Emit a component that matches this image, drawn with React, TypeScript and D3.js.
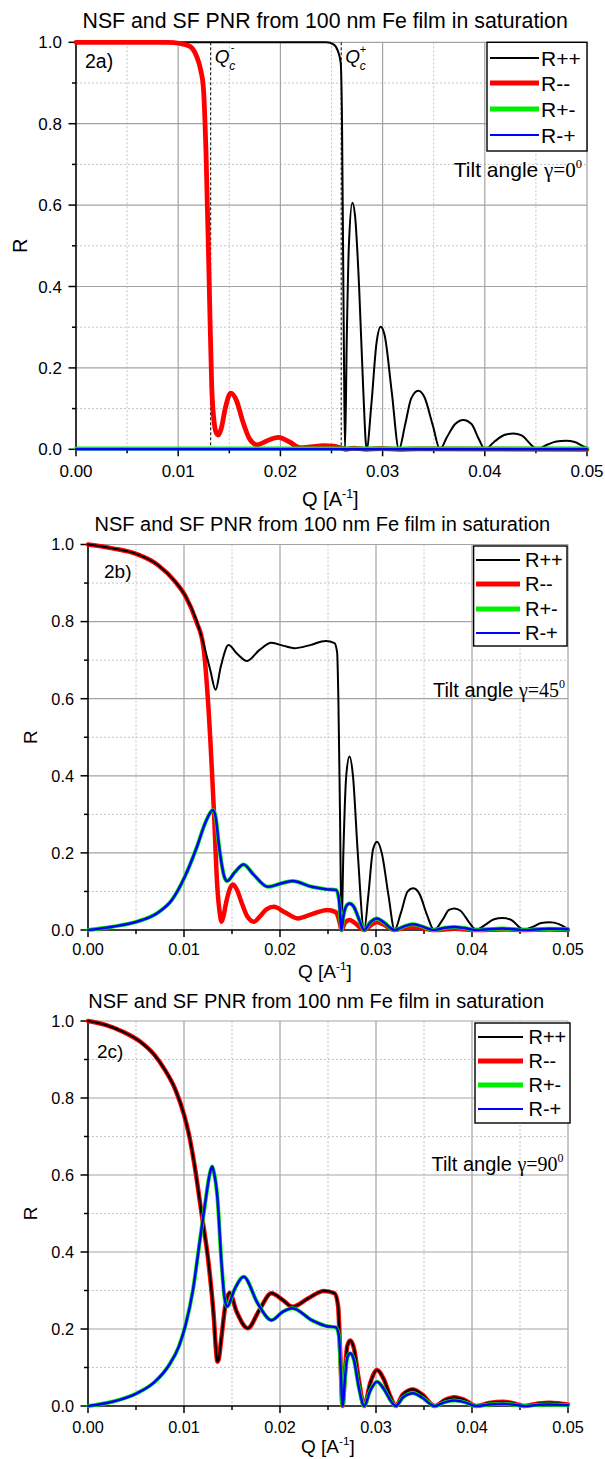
import React from 'react';
import * as d3 from 'd3';

type Pt = [number, number];

// ---------- shared axis data ----------
const xTicks = [0, 0.01, 0.02, 0.03, 0.04, 0.05];
const xTickLabels = ['0.00', '0.01', '0.02', '0.03', '0.04', '0.05'];
const xMinor = [0.005, 0.015, 0.025, 0.035, 0.045];
const yTicks = [0, 0.2, 0.4, 0.6, 0.8, 1.0];
const yTickLabels = ['0.0', '0.2', '0.4', '0.6', '0.8', '1.0'];
const yMinor = [0.1, 0.3, 0.5, 0.7, 0.9];
const seriesNames = ['R++', 'R--', 'R+-', 'R-+'];
const seriesColors = ['#000000', '#ff0000', '#00ee00', '#0000ff'];
const titleText = 'NSF and SF PNR from 100 nm Fe film in saturation';
const panelLabels = ['2a)', '2b)', '2c)'];
const tiltAngles = ['0', '45', '90'];
const qcMinus = 0.01318;
const qcPlus = 0.02595;

// ---------- panel 2a (gamma = 0) ----------
const a_pp: Pt[] = [
  [0, 1], [0.005, 1], [0.01, 1], [0.015, 1], [0.02, 1], [0.0245, 1], [0.0252, 0.995], [0.0256, 0.98], [0.0259, 0.95],
  [0.02603, 0.8], [0.02613, 0.5], [0.02623, 0.2], [0.02632, 0],
  [0.0265, 0.28], [0.0267, 0.5], [0.02704, 0.606], [0.0273, 0.575], [0.0277, 0.4], [0.0281, 0.15], [0.02844, 0],
  [0.0289, 0.11], [0.0294, 0.26], [0.02981, 0.301], [0.0302, 0.28], [0.0309, 0.14], [0.0316, 0],
  [0.0322, 0.06], [0.0328, 0.125], [0.03349, 0.144], [0.0341, 0.128], [0.0349, 0.06], [0.03562, 0],
  [0.0363, 0.03], [0.0371, 0.062], [0.0379, 0.072], [0.0387, 0.062], [0.0394, 0.026], [0.04002, 0],
  [0.0409, 0.018], [0.0419, 0.035], [0.04279, 0.039], [0.0436, 0.034], [0.0445, 0.012], [0.04508, 0],
  [0.046, 0.01], [0.047, 0.019], [0.04795, 0.021], [0.0488, 0.018], [0.0496, 0.008], [0.05, 0.004],
];
const a_mm: Pt[] = [
  [0, 1], [0.009, 1], [0.0102, 0.997], [0.01115, 0.99], [0.01181, 0.965], [0.0122, 0.932], [0.01246, 0.89],
  [0.01272, 0.73], [0.01304, 0.4], [0.01328, 0.154], [0.0135, 0.07], [0.0137, 0.042], [0.01392, 0.035],
  [0.0142, 0.05], [0.0146, 0.1], [0.01514, 0.138], [0.0157, 0.12], [0.0163, 0.07], [0.017, 0.025], [0.01774, 0.011],
  [0.0186, 0.02], [0.0198, 0.0295], [0.0209, 0.018], [0.02192, 0.004], [0.023, 0.006], [0.0242, 0.009], [0.0252, 0.008],
  [0.026, 0.003], [0.0264, 0], [0.0272, 0.003], [0.0284, 0], [0.0298, 0.002], [0.0316, 0], [0.0335, 0.001], [0.05, 0],
];
const a_pm: Pt[] = [[0, 0.002], [0.025, 0.002], [0.05, 0.002]];
const a_mp: Pt[] = [[0, 0], [0.025, 0], [0.05, 0]];

// ---------- panel 2b (gamma = 45) ----------
const b_pp: Pt[] = [
  [0, 1], [0.00254, 0.99], [0.00509, 0.975], [0.00728, 0.947], [0.0091, 0.903], [0.0102, 0.864], [0.01129, 0.804],
  [0.01202, 0.744], [0.01274, 0.674], [0.01329, 0.623], [0.01383, 0.683], [0.01464, 0.739], [0.01548, 0.718],
  [0.01657, 0.698], [0.01784, 0.726], [0.01911, 0.745], [0.0204, 0.737], [0.02149, 0.731], [0.02313, 0.739],
  [0.02476, 0.75], [0.02568, 0.744], [0.02595, 0.72], [0.02608, 0.6], [0.02625, 0.3], [0.02641, 0],
  [0.0266, 0.2], [0.0269, 0.4], [0.02724, 0.45], [0.0276, 0.4], [0.0281, 0.2], [0.02877, 0],
  [0.0292, 0.09], [0.0297, 0.21], [0.03011, 0.229], [0.0306, 0.2], [0.0313, 0.09], [0.03194, 0],
  [0.0326, 0.045], [0.0333, 0.1], [0.03386, 0.108], [0.0345, 0.095], [0.0353, 0.04], [0.03605, 0],
  [0.0369, 0.025], [0.0376, 0.052], [0.03817, 0.056], [0.0388, 0.05], [0.0397, 0.02], [0.04043, 0],
  [0.0413, 0.012], [0.0423, 0.028], [0.04316, 0.031], [0.0441, 0.026], [0.0449, 0.008], [0.04535, 0],
  [0.0463, 0.008], [0.0472, 0.018], [0.04807, 0.02], [0.049, 0.016], [0.0497, 0.007], [0.05, 0.004],
];
const b_mm: Pt[] = [
  [0, 1], [0.00254, 0.99], [0.00509, 0.975], [0.00728, 0.947], [0.0091, 0.903], [0.0102, 0.864], [0.01129, 0.8],
  [0.01202, 0.735], [0.01256, 0.571], [0.01311, 0.311], [0.01347, 0.112], [0.01372, 0.045], [0.01391, 0.0215],
  [0.0141, 0.035], [0.01438, 0.07], [0.01475, 0.105], [0.01511, 0.118], [0.0155, 0.105], [0.01602, 0.07],
  [0.0166, 0.035], [0.0173, 0.0215], [0.0179, 0.035], [0.01855, 0.053], [0.01938, 0.06], [0.0205, 0.046],
  [0.02185, 0.03], [0.0234, 0.042], [0.02495, 0.052], [0.02575, 0.047], [0.02605, 0.035], [0.02625, 0.015], [0.02641, 0],
  [0.0268, 0.02], [0.02724, 0.026], [0.0277, 0.02], [0.02877, 0], [0.0296, 0.015], [0.03011, 0.02], [0.0307, 0.015],
  [0.03194, 0], [0.0333, 0.007], [0.03386, 0.008], [0.0345, 0.006], [0.03605, 0], [0.0382, 0.003], [0.04043, 0],
  [0.0432, 0.0015], [0.0454, 0], [0.048, 0.001], [0.05, 0],
];
const b_pm: Pt[] = [
  [0, 0], [0.00254, 0.0086], [0.00509, 0.0215], [0.00728, 0.045], [0.00874, 0.078], [0.01008, 0.138], [0.01129, 0.212],
  [0.0122, 0.277], [0.01275, 0.305], [0.013, 0.311], [0.01329, 0.294], [0.01366, 0.216], [0.0142, 0.138], [0.01449, 0.127],
  [0.0153, 0.15], [0.01621, 0.17], [0.0172, 0.145], [0.01875, 0.112], [0.02, 0.12], [0.0213, 0.127], [0.0233, 0.112],
  [0.02476, 0.106], [0.02585, 0.104], [0.02615, 0.078], [0.02641, 0],
  [0.0266, 0.035], [0.0269, 0.062], [0.02724, 0.069], [0.0277, 0.06], [0.0282, 0.03], [0.02877, 0],
  [0.0294, 0.02], [0.03011, 0.03], [0.0308, 0.02], [0.03194, 0], [0.033, 0.01], [0.03386, 0.015], [0.0347, 0.01],
  [0.03605, 0], [0.0372, 0.006], [0.03817, 0.008], [0.0392, 0.005], [0.04043, 0], [0.0432, 0.004], [0.0454, 0],
  [0.048, 0.003], [0.05, 0.002],
];
const b_mp: Pt[] = b_pm.map((d) => [d[0], d[1]] as Pt);

// ---------- panel 2c (gamma = 90) ----------
const c_pp: Pt[] = [
  [0, 1], [0.00182, 0.99], [0.00364, 0.972], [0.00546, 0.946], [0.00692, 0.912], [0.00801, 0.873], [0.0091, 0.822],
  [0.01, 0.757], [0.0105, 0.707], [0.0111, 0.625], [0.01183, 0.5], [0.01256, 0.371], [0.0131, 0.232], [0.01335, 0.14],
  [0.01347, 0.115], [0.0136, 0.12], [0.01391, 0.18], [0.0143, 0.26], [0.01475, 0.294], [0.01548, 0.245], [0.01665, 0.202],
  [0.01784, 0.249], [0.01911, 0.293], [0.0203, 0.275], [0.0213, 0.258], [0.02295, 0.28], [0.02458, 0.299], [0.02568, 0.293],
  [0.02605, 0.26], [0.0263, 0.12], [0.02651, 0],
  [0.0268, 0.1], [0.027, 0.155], [0.02731, 0.17], [0.0277, 0.15], [0.0282, 0.07], [0.02877, 0],
  [0.0294, 0.06], [0.03011, 0.0935], [0.0308, 0.07], [0.0315, 0.025], [0.03205, 0],
  [0.0328, 0.03], [0.03386, 0.043], [0.0348, 0.03], [0.03612, 0],
  [0.0372, 0.016], [0.03817, 0.0226], [0.0392, 0.016], [0.04043, 0],
  [0.0418, 0.008], [0.04327, 0.011], [0.0445, 0.006], [0.04535, 0],
  [0.0468, 0.006], [0.04807, 0.0087], [0.0493, 0.006], [0.05, 0.004],
];
const c_mm: Pt[] = c_pp.map((d) => [d[0], d[1]] as Pt);
const c_pm: Pt[] = [
  [0, 0], [0.00254, 0.011], [0.00509, 0.033], [0.00692, 0.062], [0.00838, 0.104], [0.00947, 0.155], [0.0102, 0.214],
  [0.01093, 0.301], [0.01166, 0.431], [0.0122, 0.526], [0.0127, 0.605], [0.01293, 0.622], [0.0131, 0.609], [0.01347, 0.544],
  [0.01391, 0.371], [0.0142, 0.285], [0.01449, 0.258], [0.0153, 0.305], [0.01621, 0.336], [0.01767, 0.267], [0.01911, 0.223],
  [0.0203, 0.245], [0.0213, 0.254], [0.0233, 0.223], [0.02476, 0.208], [0.02585, 0.204], [0.02615, 0.18], [0.02635, 0.08], [0.02651, 0],
  [0.0268, 0.08], [0.027, 0.125], [0.02731, 0.137], [0.0277, 0.12], [0.0282, 0.05], [0.02877, 0],
  [0.0294, 0.04], [0.03011, 0.063], [0.0308, 0.045], [0.0315, 0.015], [0.03205, 0],
  [0.0328, 0.022], [0.03386, 0.033], [0.0348, 0.022], [0.03612, 0],
  [0.0372, 0.01], [0.03817, 0.014], [0.0392, 0.01], [0.04043, 0],
  [0.0418, 0.004], [0.0433, 0.006], [0.0445, 0.003], [0.0454, 0],
  [0.047, 0.003], [0.048, 0.004], [0.049, 0.003], [0.05, 0.002],
];
const c_mp: Pt[] = c_pm.map((d) => [d[0], d[1]] as Pt);

const SANS = '"Liberation Sans", Arial, Helvetica, sans-serif';
const SERIF = '"Liberation Serif", "Times New Roman", serif';

type PanelCfg = {
  x0: number; x1: number; yTop: number; yBot: number;
  data: Pt[][]; order: number[]; widths: number[];
  title: { x: number; y: number; size: number };
  tick: { size: number; xBase: number; yRight: number };
  xlab: { x: number; y: number; size: number };
  ylab: { x: number; size: number };
  label: { x: number; y: number; size: number; text: string };
  tilt: { x: number; y: number; size: number; angle: string };
  legend: { x0: number; x1: number; y0: number; y1: number; rows: number[]; lx0: number; lx1: number; tx: number; size: number };
  qc?: boolean;
};

const panels: PanelCfg[] = [
  {
    x0: 76, x1: 587, yTop: 42.3, yBot: 449.3,
    data: [a_pp, a_mm, a_pm, a_mp], order: [0, 1, 2, 3], widths: [2, 4.8, 4, 2.5],
    title: { x: 82.5, y: 28, size: 21.3 },
    tick: { size: 17, xBase: 476.5, yRight: 62 },
    xlab: { x: 302, y: 506, size: 20 },
    ylab: { x: 27, size: 20 },
    label: { x: 85, y: 68, size: 19.5, text: panelLabels[0] },
    tilt: { x: 582, y: 177, size: 21, angle: tiltAngles[0] },
    legend: { x0: 487, x1: 587, y0: 42.3, y1: 151, rows: [58, 83, 109, 135], lx0: 490, lx1: 539, tx: 541, size: 21 },
    qc: true,
  },
  {
    x0: 88, x1: 568, yTop: 544.5, yBot: 930,
    data: [b_pp, b_mm, b_pm, b_mp], order: [1, 0, 2, 3], widths: [2, 4.5, 4, 2.5],
    title: { x: 94.5, y: 530.5, size: 20 },
    tick: { size: 16.3, xBase: 955, yRight: 74 },
    xlab: { x: 298, y: 978, size: 19 },
    ylab: { x: 37, size: 19 },
    label: { x: 104, y: 578, size: 19, text: panelLabels[1] },
    tilt: { x: 565, y: 696.7, size: 20, angle: tiltAngles[1] },
    legend: { x0: 473.6, x1: 567, y0: 546, y1: 646, rows: [560, 584, 609, 633], lx0: 476, lx1: 520, tx: 525, size: 20 },
  },
  {
    x0: 88, x1: 568, yTop: 1021, yBot: 1406,
    data: [c_pp, c_mm, c_pm, c_mp], order: [1, 0, 2, 3], widths: [2.2, 4.5, 4, 2.5],
    title: { x: 88.3, y: 1008.3, size: 20 },
    tick: { size: 16.3, xBase: 1432.7, yRight: 74 },
    xlab: { x: 301, y: 1453, size: 19 },
    ylab: { x: 37, size: 19 },
    label: { x: 97, y: 1058, size: 19, text: panelLabels[2] },
    tilt: { x: 563.5, y: 1170.7, size: 20, angle: tiltAngles[2] },
    legend: { x0: 475, x1: 570, y0: 1023, y1: 1123, rows: [1037, 1061, 1085, 1109], lx0: 478, lx1: 523, tx: 528.5, size: 20 },
  },
];

function Panel({ cfg }: { cfg: PanelCfg }) {
  const x = d3.scaleLinear().domain([0, 0.05]).range([cfg.x0, cfg.x1]);
  const y = d3.scaleLinear().domain([0, 1]).range([cfg.yBot, cfg.yTop]);
  const line = d3
    .line<Pt>()
    .x((d) => x(d[0]))
    .y((d) => y(d[1]))
    .curve(d3.curveMonotoneX);
  const gridMajor = '#a3a3a3';
  const gridMinor = '#c4c4c4';
  const lg = cfg.legend;
  const legendWidths = [2, 4.8, 4.8, 2.2];
  return (
    <g>
      {xMinor.map((v) => (
        <line key={'xm' + v} x1={x(v)} x2={x(v)} y1={cfg.yTop} y2={cfg.yBot} stroke={gridMinor} strokeWidth={1} strokeDasharray="2,2" />
      ))}
      {yMinor.map((v) => (
        <line key={'ym' + v} x1={cfg.x0} x2={cfg.x1} y1={y(v)} y2={y(v)} stroke={gridMinor} strokeWidth={1} strokeDasharray="2,2" />
      ))}
      {xTicks.slice(1).map((v) => (
        <line key={'xg' + v} x1={x(v)} x2={x(v)} y1={cfg.yTop} y2={cfg.yBot} stroke={gridMajor} strokeWidth={1.2} />
      ))}
      {yTicks.slice(1).map((v) => (
        <line key={'yg' + v} x1={cfg.x0} x2={cfg.x1} y1={y(v)} y2={y(v)} stroke={gridMajor} strokeWidth={1.2} />
      ))}
      {cfg.qc && [qcMinus, qcPlus].map((q) => (
        <line key={'qc' + q} x1={x(q)} x2={x(q)} y1={cfg.yTop} y2={cfg.yBot} stroke="#000" strokeWidth={1} strokeDasharray="3,2" />
      ))}
      <line x1={cfg.x0} x2={cfg.x0} y1={cfg.yTop - 0.5} y2={cfg.yBot} stroke="#000" strokeWidth={1.6} />
      <line x1={cfg.x0} x2={cfg.x1} y1={cfg.yBot} y2={cfg.yBot} stroke="#000" strokeWidth={1.6} />
      {xTicks.map((v) => (
        <line key={'xt' + v} x1={x(v)} x2={x(v)} y1={cfg.yBot} y2={cfg.yBot + 7} stroke="#000" strokeWidth={1.5} />
      ))}
      {xMinor.map((v) => (
        <line key={'xmt' + v} x1={x(v)} x2={x(v)} y1={cfg.yBot} y2={cfg.yBot + 4} stroke="#000" strokeWidth={1.5} />
      ))}
      {yTicks.map((v) => (
        <line key={'yt' + v} x1={cfg.x0 - 7.5} x2={cfg.x0} y1={y(v)} y2={y(v)} stroke="#000" strokeWidth={1.5} />
      ))}
      {yMinor.map((v) => (
        <line key={'ymt' + v} x1={cfg.x0 - 4} x2={cfg.x0} y1={y(v)} y2={y(v)} stroke="#000" strokeWidth={1.5} />
      ))}
      {xTicks.map((v, i) => (
        <text key={'xl' + v} x={x(v)} y={cfg.tick.xBase} textAnchor="middle" fontFamily={SANS} fontSize={cfg.tick.size} fill="#000">
          {xTickLabels[i]}
        </text>
      ))}
      {yTicks.map((v, i) => (
        <text key={'yl' + v} x={cfg.tick.yRight} y={y(v) + cfg.tick.size * 0.36} textAnchor="end" fontFamily={SANS} fontSize={cfg.tick.size} fill="#000">
          {yTickLabels[i]}
        </text>
      ))}
      {cfg.order.map((k) => (
        <path key={'s' + k} d={line(cfg.data[k]) || ''} fill="none" stroke={seriesColors[k]} strokeWidth={cfg.widths[k]} strokeLinejoin="round" strokeLinecap="round" />
      ))}
      <text x={cfg.title.x} y={cfg.title.y} fontFamily={SANS} fontSize={cfg.title.size} fill="#000">{titleText}</text>
      <text x={cfg.xlab.x} y={cfg.xlab.y} fontFamily={SANS} fontSize={cfg.xlab.size} fill="#000" style={{ whiteSpace: 'pre' }}>
        <tspan>{'Q [A'}</tspan>
        <tspan fontSize={cfg.xlab.size * 0.62} dy={-cfg.xlab.size * 0.42}>{'-1'}</tspan>
        <tspan dy={cfg.xlab.size * 0.42}>{']'}</tspan>
      </text>
      <text
        transform={`translate(${cfg.ylab.x},${(cfg.yTop + cfg.yBot) / 2}) rotate(-90)`}
        textAnchor="middle" fontFamily={SANS} fontSize={cfg.ylab.size} fill="#000"
      >
        R
      </text>
      <text x={cfg.label.x} y={cfg.label.y} fontFamily={SANS} fontSize={cfg.label.size} fill="#000">{cfg.label.text}</text>
      <text x={cfg.tilt.x} y={cfg.tilt.y} textAnchor="end" fontSize={cfg.tilt.size} fill="#000" style={{ whiteSpace: 'pre' }}>
        <tspan fontFamily={SANS}>{'Tilt angle '}</tspan>
        <tspan fontFamily={SERIF}>{'\u03B3=' + cfg.tilt.angle}</tspan>
        <tspan fontFamily={SERIF} fontSize={cfg.tilt.size * 0.6} dy={-cfg.tilt.size * 0.45}>{'0'}</tspan>
      </text>
      {cfg.qc && (
        <g fontFamily={SANS} fill="#000">
          <text x={x(qcMinus) + 4} y={63} fontSize={19} fontStyle="italic">Q</text>
          <text x={x(qcMinus) + 20} y={51} fontSize={11}>-</text>
          <text x={x(qcMinus) + 18.5} y={70} fontSize={12} fontStyle="italic">c</text>
          <text x={x(qcPlus) + 4} y={63} fontSize={19} fontStyle="italic">Q</text>
          <text x={x(qcPlus) + 18.5} y={53} fontSize={11}>+</text>
          <text x={x(qcPlus) + 18.5} y={70} fontSize={12} fontStyle="italic">c</text>
        </g>
      )}
      <rect x={lg.x0} y={lg.y0} width={lg.x1 - lg.x0} height={lg.y1 - lg.y0} fill="#fff" stroke="#000" strokeWidth={1.4} />
      {seriesNames.map((n, i) => (
        <g key={'lg' + n}>
          <line x1={lg.lx0} x2={lg.lx1} y1={lg.rows[i]} y2={lg.rows[i]} stroke={seriesColors[i]} strokeWidth={legendWidths[i]} />
          <text x={lg.tx} y={lg.rows[i] + lg.size * 0.36} fontFamily={SANS} fontSize={lg.size} fill="#000">{n}</text>
        </g>
      ))}
    </g>
  );
}

export default function App() {
  return (
    <svg
      width={605}
      height={1459}
      viewBox="0 0 605 1459"
      style={{ position: 'absolute', left: 0, top: 0, background: '#fff' }}
    >
      <rect x={0} y={0} width={605} height={1459} fill="#fff" />
      {panels.map((p, i) => (
        <Panel key={i} cfg={p} />
      ))}
    </svg>
  );
}
